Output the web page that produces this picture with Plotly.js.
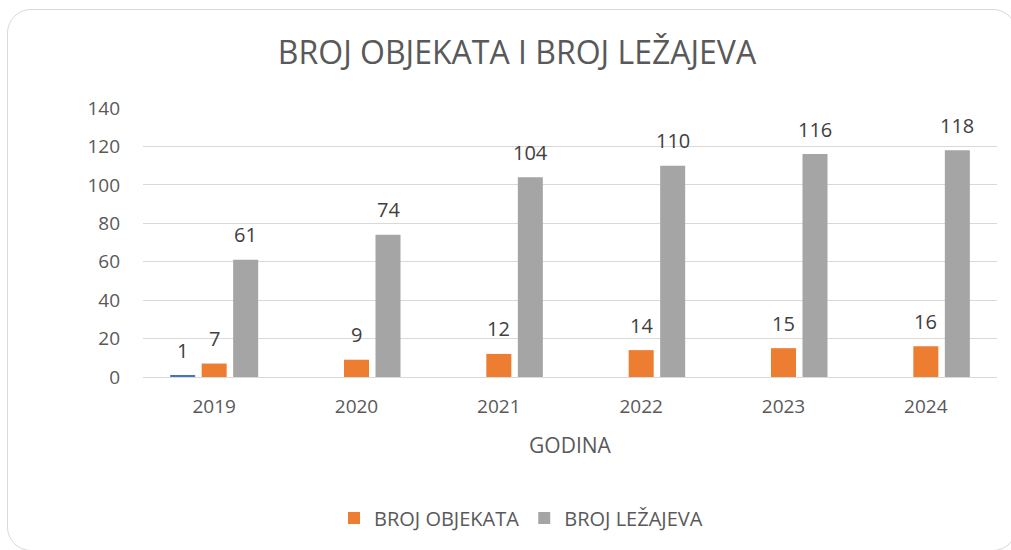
<!DOCTYPE html>
<html>
<head>
<meta charset="utf-8">
<script src="https://cdn.plot.ly/plotly-3.0.1.min.js"></script>
<style>
  html, body { margin: 0; padding: 0; background: #ffffff; width: 1011px; height: 550px; overflow: hidden; }
  #card { position: absolute; left: 7px; top: 9px; width: 1010px; height: 542px; border: 1px solid #d9d9d9; border-radius: 24px; box-sizing: border-box; }
  #chart { position: absolute; left: 0; top: 0; width: 1011px; height: 550px; }
</style>
</head>
<body>
<div id="card"></div>
<div id="chart"></div>
<script>
const categories = ["2019", "2020", "2021", "2022", "2023", "2024"];
const godina = [1, null, null, null, null, null];
const brojObjekata = [7, 9, 12, 14, 15, 16];
const brojLezajeva = [61, 74, 104, 110, 116, 118];
const yTicks = [0, 20, 40, 60, 80, 100, 120, 140];

const FONT = "Open Sans, sans-serif";
const TXT = "#595959";

const series = [
  { name: "GODINA", values: godina, color: "#4472C4", legend: false },
  { name: "BROJ OBJEKATA", values: brojObjekata, color: "#ED7D31", legend: true },
  { name: "BROJ LEŽAJEVA", values: brojLezajeva, color: "#A5A5A5", legend: true }
];

const traces = series.map(s => ({
  type: "bar",
  name: s.name,
  x: categories,
  y: s.values,
  marker: { color: s.color },
  showlegend: s.legend,
  hoverinfo: "x+y+name",
  offsetgroup: s.name
}));

// Data labels built from arrays, placed above bars through the axis scale
const nS = series.length;
const annotations = [];
series.forEach((s, si) => {
  s.values.forEach((v, ci) => {
    if (v === null) return;
    annotations.push({
      xref: "x", yref: "y",
      x: ci + (si - (nS - 1) / 2) * 0.2214,
      y: v,
      text: String(v),
      showarrow: false,
      yanchor: "middle",
      yshift: 25,
      font: { family: FONT, size: 20, color: "#404040" }
    });
  });
});

const layout = {
  width: 1011, height: 550,
  paper_bgcolor: "rgba(0,0,0,0)",
  plot_bgcolor: "rgba(0,0,0,0)",
  margin: { l: 143, r: 14, t: 108, b: 173 },
  barmode: "group",
  bargap: 0.336,
  bargroupgap: 0.206,
  title: {
    text: "BROJ OBJEKATA I BROJ LEŽAJEVA",
    font: { family: FONT, size: 32, color: TXT },
    xref: "container", yref: "container",
    x: 517 / 1011, xanchor: "center",
    y: 1 - 53 / 550, yanchor: "middle"
  },
  xaxis: {
    type: "category",
    tickfont: { family: FONT, size: 19, color: TXT },
    showgrid: false,
    showline: false,
    ticks: "",
    ticklabelstandoff: 16,
    title: { text: "GODINA", font: { family: FONT, size: 21, color: TXT }, standoff: 20 }
  },
  yaxis: {
    range: [0, 140],
    tickvals: yTicks,
    ticktext: yTicks.map(String),
    tickfont: { family: FONT, size: 19, color: TXT },
    gridcolor: "#d9d9d9",
    gridwidth: 1,
    zeroline: true,
    zerolinecolor: "#d9d9d9",
    zerolinewidth: 1,
    showline: false,
    ticks: "",
    ticklabelstandoff: 22,
    fixedrange: true
  },
  legend: {
    orientation: "h",
    xref: "container", yref: "container",
    x: 521 / 1011, xanchor: "center",
    y: 1 - 518 / 550, yanchor: "middle",
    font: { family: FONT, size: 20, color: TXT },
    itemwidth: 30,
    traceorder: "normal"
  },
  annotations: annotations,
  hovermode: "closest"
};

Plotly.newPlot("chart", traces, layout, { displayModeBar: false, staticPlot: false });
</script>
</body>
</html>
